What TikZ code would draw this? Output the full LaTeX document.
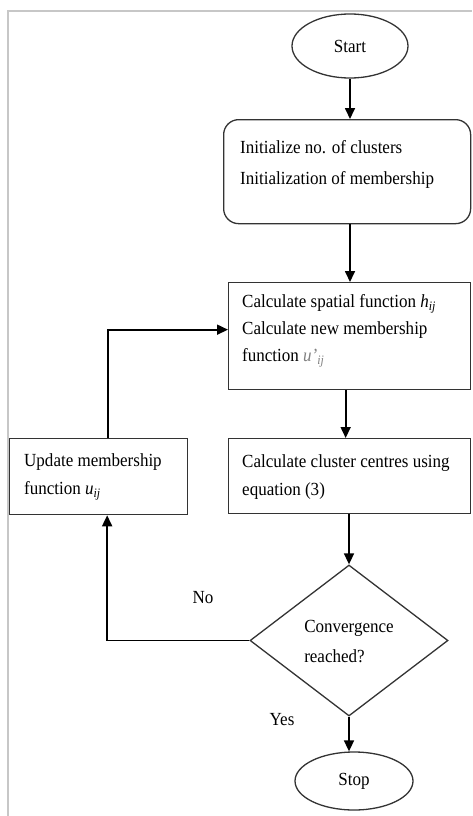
\documentclass[tikz,border=0pt]{standalone}
\usepackage{fontspec}
\setmainfont[FakeStretch=0.92]{Liberation Serif}
\usetikzlibrary{shapes.geometric,arrows.meta}
\begin{document}
\begin{tikzpicture}[x=1pt,y=-1pt,
  box/.style={draw=black!80,line width=1.3pt,rectangle,inner sep=0pt,anchor=north west},
  oval/.style={draw=black!80,line width=1.3pt,ellipse,inner sep=0pt,font=\fontsize{18.5}{20}\selectfont},
  decide/.style={draw=black!80,line width=1.3pt,diamond,inner sep=0pt},
  txt/.style={align=left,inner sep=0pt,anchor=west},
  lbl/.style={inner sep=0pt,font=\fontsize{18.5}{20}\selectfont},
  arr/.style={draw=black,line width=1.7pt,-{Triangle[length=11pt,width=10pt]}},
  frame/.style={draw=black!22,line width=1.2pt}]
\useasboundingbox (0,0) rectangle (472,816);
\draw[frame] (8,816) -- (8,11) -- (472,11);

\node[oval,minimum width=116pt,minimum height=64pt] (st) at (350,46) {Start};
\node[box,rounded corners=15pt,minimum width=247pt,minimum height=104pt] (b1) at (223,119) {};
\node[box,minimum width=242pt,minimum height=107pt] (b2) at (228,282) {};
\node[box,minimum width=242pt,minimum height=75pt] (b3) at (228,438) {};
\node[box,minimum width=178pt,minimum height=76pt] (b4) at (9,438) {};
\node[decide,minimum width=198pt,minimum height=151pt] (d) at (349,640.5) {};
\node[oval,minimum width=118pt,minimum height=58pt] (sp) at (354,781) {Stop};

\node[txt,font=\fontsize{18.5}{31}\selectfont] (t1) at (240,164) {Initialize no. of clusters\\Initialization of membership};
\node[txt,font=\fontsize{18.5}{27}\selectfont] (t2) at (242,331) {Calculate spatial function \textit{h}\textsubscript{\textit{ij}}\\Calculate new membership\\function \textcolor{gray}{\textit{u'}\textsubscript{\textit{ij}}}};
\node[txt,font=\fontsize{18.5}{28}\selectfont] (t3) at (242,477) {Calculate cluster centres using\\equation (3)};
\node[txt,font=\fontsize{18.5}{28}\selectfont] (t4) at (24,477) {Update membership\\function \textit{u}\textsubscript{\textit{ij}}};
\node[align=left,inner sep=0pt,font=\fontsize{18.5}{30}\selectfont] (dt) at (349,641) {Convergence\\reached?};
\node[lbl] (no) at (203,598) {No};
\node[lbl] (yes) at (282,720) {Yes};

\draw[arr] (st.south) -- (st.south |- b1.north);
\draw[arr] (st.south |- b1.south) -- (st.south |- b2.north);
\draw[arr] ([xshift=-4pt]b2.south) -- ([xshift=-4pt]b3.north);
\draw[arr] (b3.south -| d.north) -- (d.north);
\draw[arr] (d.south) -- (d.south |- sp.north);
\draw[arr] (d.west) -| ([xshift=8.5pt]b4.south);
\draw[arr] ([xshift=9pt]b4.north) |- ([yshift=6.5pt]b2.west);
\end{tikzpicture}
\end{document}
